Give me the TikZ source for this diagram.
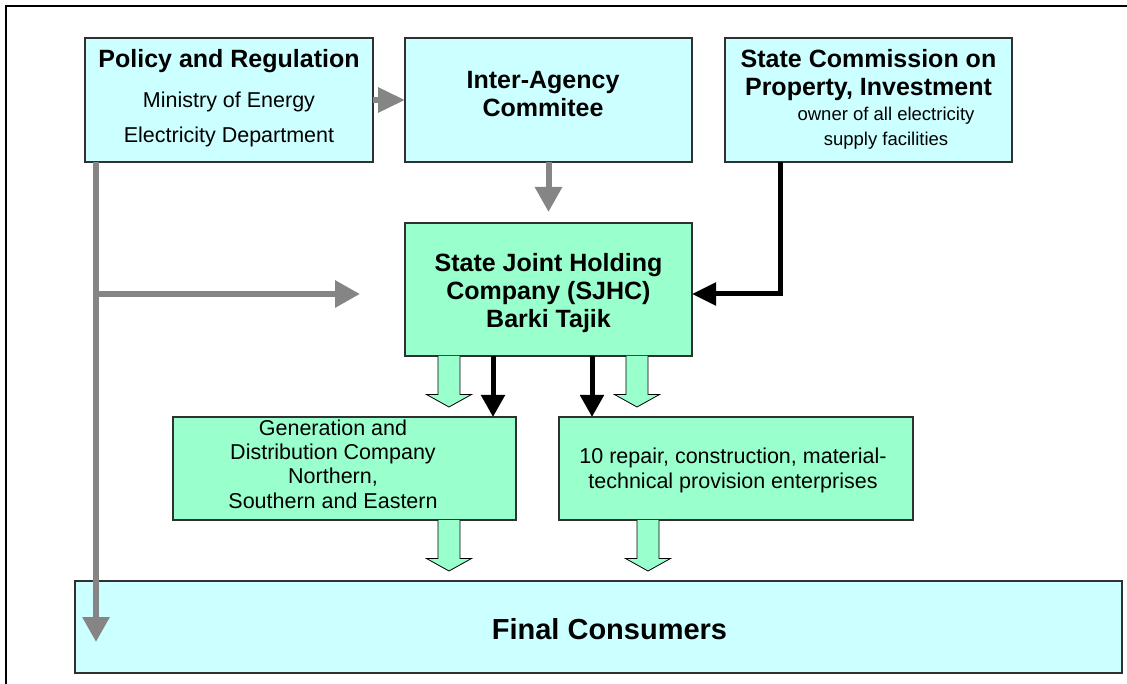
\documentclass[tikz,border=0pt]{standalone}
\usepackage{fontspec}
\setmainfont{Liberation Sans}
\usetikzlibrary{arrows.meta,calc}

\definecolor{paleCyan}{HTML}{CCFFFF}
\definecolor{paleGreen}{HTML}{99FFCC}
\definecolor{flowGray}{HTML}{858585}
\definecolor{edgeGray}{HTML}{303030}

% hollow green block arrow pointing down: #1 = start point, #2 = tip point
\newcommand\blockdown[2]{%
  \path #1 coordinate (bd-s) #2 coordinate (bd-t);
  \filldraw[fill=paleGreen, draw=black, line width=0.8pt]
    let \p1=(bd-s), \p2=(bd-t) in
    (\x1-11,\y1) -- (\x1-11,\y2+12.5) -- (\x1-22.5,\y2+12.5) -- (\x1,\y2)
    -- (\x1+22.5,\y2+12.5) -- (\x1+11,\y2+12.5) -- (\x1+11,\y1);
}

\begin{document}
\begin{tikzpicture}[x=1pt,y=-1pt,
  box/.style={draw=edgeGray, line width=1.2pt, inner sep=0pt, outer sep=0pt,
              anchor=north west},
  cyanbox/.style={box, fill=paleCyan},
  greenbox/.style={box, fill=paleGreen},
  % multi-line texts: the base anchor sits on the last line
  headtext/.style={font=\fontsize{25}{28}\selectfont\bfseries, align=center, anchor=base},
  bodytext/.style={font=\fontsize{21.5}{24.3}\selectfont, align=center, anchor=base},
  smalltext/.style={font=\fontsize{18.5}{25}\selectfont, align=center, anchor=base},
  grayflow/.style={draw=flowGray, line width=6pt,
                   -{Triangle[length=25pt,width=26pt]}},
  blackflow/.style={draw=black, line width=5pt,
                    -{Triangle[length=22pt,width=23pt]}},
]
\useasboundingbox (0,0) rectangle (1127,684);
\clip (0,0) rectangle (1127,684);
\fill[white] (0,0) rectangle (1127,684);

% outer frame
\draw[line width=2pt] (6,700) -- (6,6) -- (1140,6);

% boxes
\node[cyanbox, minimum width=288, minimum height=124] (policy) at (85,38) {};
\node[cyanbox, minimum width=287, minimum height=124] (inter) at (405,38) {};
\node[cyanbox, minimum width=287, minimum height=124] (commission) at (725,38) {};
\node[greenbox, minimum width=287, minimum height=133] (sjhc) at (405,223) {};
\node[greenbox, minimum width=343, minimum height=103] (gen) at (173,417) {};
\node[greenbox, minimum width=354, minimum height=103] (repair) at (559,417) {};
\node[cyanbox, minimum width=1047, minimum height=92] (final) at (75,581) {};

% texts
\node[headtext] (policy-title) at (229,68) {Policy and Regulation};
\node[bodytext] (policy-min) at (229,108) {Ministry of Energy};
\node[bodytext] (policy-dep) at (229,143) {Electricity Department};
\node[headtext] (inter-t) at (543,117) {Inter-Agency\\Commitee};
\node[headtext] (commission-t) at (868.5,96) {State Commission on\\Property, Investment};
\node[smalltext] (commission-s) at (886,145.5) {owner of all electricity\\supply facilities};
\node[headtext] (sjhc-t) at (548.5,328) {State Joint Holding\\Company (SJHC)\\Barki Tajik};
\node[bodytext] (gen-t) at (333,508) {Generation and\\Distribution Company\\Northern,\\Southern and Eastern};
\node[bodytext, font=\fontsize{21.5}{25}\selectfont] (repair-t) at (733,488) {10 repair, construction, material-\\technical provision enterprises};
\node[font=\fontsize{29}{32}\selectfont\bfseries, anchor=base] (final-t) at (609.5,639) {Final Consumers};

% gray regulatory links
\coordinate (trunk-top) at ($(policy.south west)+(11,0)$);
\coordinate (trunk-branch) at ($(policy.south west)+(11,132)$);
\coordinate (branch-tip) at ($(sjhc.west |- trunk-branch)+(-45,0)$);
\coordinate (trunk-tip) at ($(final.north west)+(21,61)$);
\draw[grayflow] (trunk-top) -- (trunk-tip);
\draw[grayflow] (trunk-branch) -- (branch-tip);
\draw[grayflow, -{Triangle[length=27pt,width=24pt]}] (policy.east) -- (inter.west);
\draw[grayflow, shorten >=11pt] (inter.south) -- (sjhc.north);

% ownership link
\coordinate (own-top) at ($(commission.south west)+(55,0)$);
\coordinate (own-bend) at ($(own-top)+(0,132)$);
\draw[blackflow, -{Triangle[length=24pt,width=22pt]}] (own-top) -- (own-bend) -- (sjhc.east |- own-bend);

% holding to subsidiaries
\coordinate (sub-a) at ($(sjhc.south west)+(88,0)$);
\coordinate (sub-b) at ($(sjhc.south west)+(187,0)$);
\draw[blackflow] (sub-a) -- (sub-a |- gen.north);
\draw[blackflow] (sub-b) -- (sub-b |- repair.north);

% block arrows
\blockdown{($(sjhc.south west)+(44,0)$)}{($(sjhc.south west)+(44,51)$)}
\blockdown{($(sjhc.south west)+(232,0)$)}{($(sjhc.south west)+(232,51)$)}
\blockdown{($(gen.south west)+(276,0)$)}{($(gen.south west)+(276,51)$)}
\blockdown{($(repair.south west)+(89,0)$)}{($(repair.south west)+(89,51)$)}
\end{tikzpicture}
\end{document}
